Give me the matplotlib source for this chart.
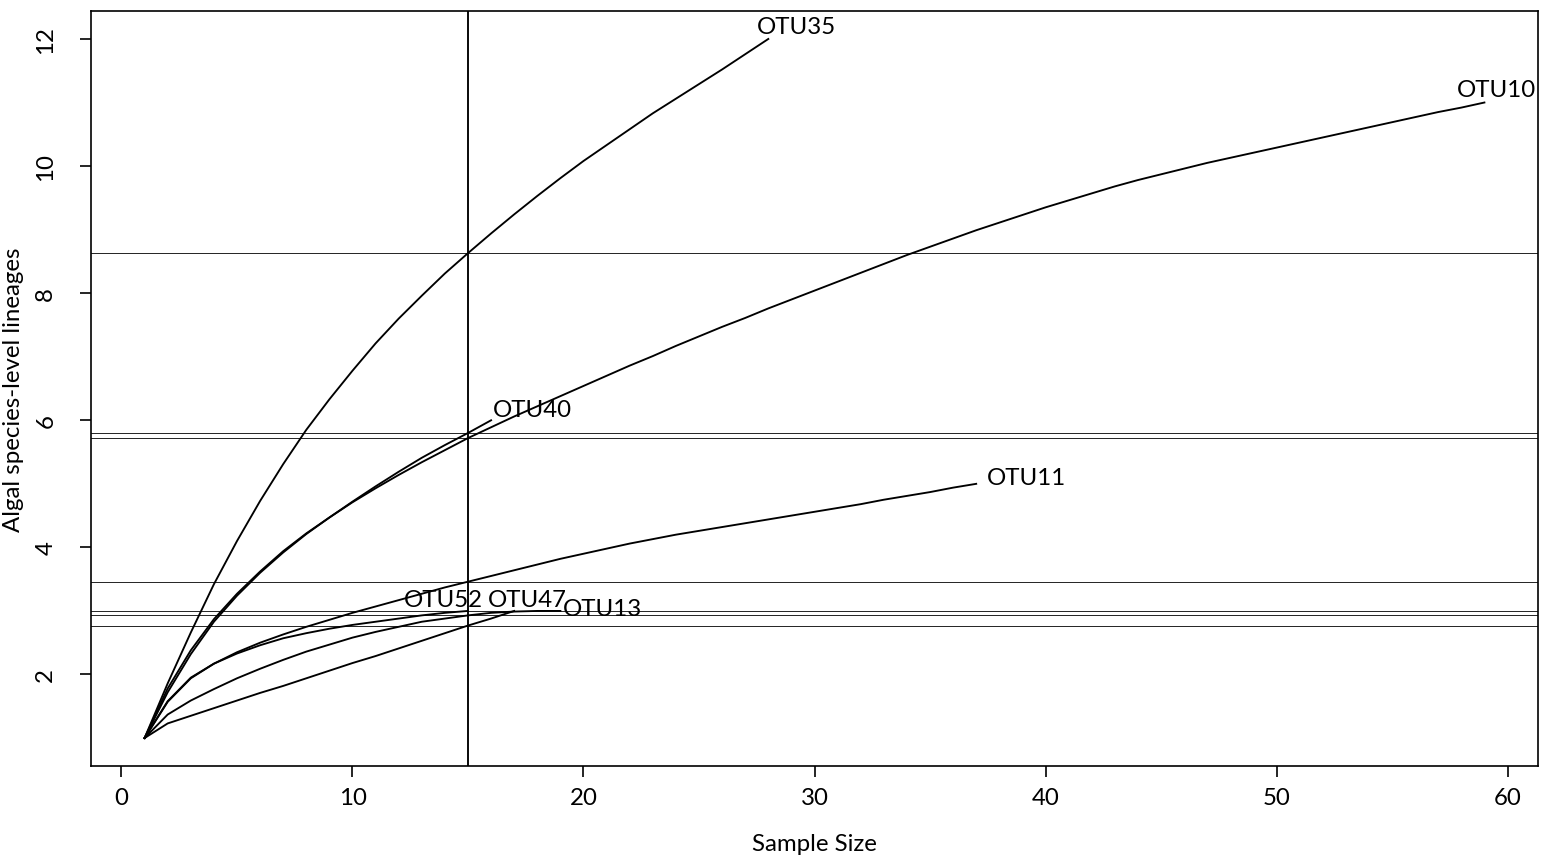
import numpy as np
import matplotlib.pyplot as plt

plt.rcParams['font.family'] = ['Lato', 'DejaVu Sans']

# rarefied richness at subsample size 1..N
otu35 = [1.00, 1.86, 2.66, 3.42, 4.10, 4.73, 5.31, 5.85, 6.33, 6.78,
         7.21, 7.60, 7.96, 8.31, 8.63, 8.94, 9.24, 9.53, 9.81, 10.08,
         10.33, 10.58, 10.83, 11.06, 11.29, 11.52, 11.76, 12.00]
otu10 = [1.00, 1.78, 2.38, 2.87, 3.27, 3.62, 3.94, 4.22, 4.47, 4.71,
         4.93, 5.14, 5.34, 5.53, 5.72, 5.89, 6.06, 6.22, 6.38, 6.54,
         6.70, 6.86, 7.01, 7.17, 7.32, 7.47, 7.61, 7.76, 7.90, 8.04,
         8.18, 8.32, 8.46, 8.60, 8.73, 8.86, 8.99, 9.11, 9.23, 9.35,
         9.46, 9.57, 9.68, 9.78, 9.87, 9.96, 10.05, 10.13, 10.21, 10.29,
         10.37, 10.45, 10.53, 10.61, 10.69, 10.77, 10.85, 10.92, 11.00]
otu40 = [1.00, 1.72, 2.32, 2.83, 3.24, 3.60, 3.92, 4.21, 4.47, 4.72,
         4.96, 5.19, 5.41, 5.61, 5.80, 6.00]
otu11 = [1.00, 1.58, 1.95, 2.17, 2.35, 2.50, 2.63, 2.75, 2.86, 2.97,
         3.07, 3.17, 3.27, 3.37, 3.46, 3.55, 3.64, 3.73, 3.82, 3.90,
         3.98, 4.06, 4.13, 4.20, 4.26, 4.32, 4.38, 4.44, 4.50, 4.56,
         4.62, 4.68, 4.75, 4.81, 4.87, 4.94, 5.00]
otu52 = [1.00, 1.57, 1.94, 2.17, 2.33, 2.46, 2.57, 2.65, 2.72, 2.78,
         2.83, 2.88, 2.93, 2.97, 3.00]
otu47 = [1.00, 1.23, 1.35, 1.47, 1.59, 1.71, 1.82, 1.94, 2.06, 2.18,
         2.29, 2.41, 2.53, 2.65, 2.77, 2.88, 3.00]
otu13 = [1.00, 1.37, 1.59, 1.77, 1.94, 2.09, 2.23, 2.36, 2.47, 2.58,
         2.67, 2.75, 2.83, 2.88, 2.93, 2.97, 2.99, 3.00, 3.00]

names = ['OTU35', 'OTU10', 'OTU40', 'OTU11', 'OTU52', 'OTU47', 'OTU13']
curves = [otu35, otu10, otu40, otu11, otu52, otu47, otu13]
sample = 15

# label offset from the curve end, in pixels
lab_dx = [28, 12, 41, 50, -25, 13, 42]
lab_dy = [12, 13, 11, 6, 11, 11, 2]

fig = plt.figure(figsize=(15.52, 8.62), dpi=100)
ax = fig.add_axes([91 / 1552, 95 / 862, 1447 / 1552, 755 / 862])

ax.axvline(sample, color='black', lw=1.35)
for s in curves:
    n = np.arange(1, len(s) + 1)
    ax.axhline(np.interp(sample, n, s), color='black', lw=0.6)

for name, s, dx, dy in zip(names, curves, lab_dx, lab_dy):
    n = np.arange(1, len(s) + 1)
    ax.plot(n, s, color='black', lw=1.35)
    ax.annotate(name, (n[-1], s[-1]), xytext=(dx, dy),
                textcoords='offset pixels', ha='center', va='center',
                fontsize=17.3)

ax.set_xlim(-1.32, 61.32)
ax.set_ylim(0.56, 12.44)
ax.set_xticks(range(0, 61, 10))
ax.set_yticks(range(2, 13, 2))
ax.set_yticklabels([str(v) for v in range(2, 13, 2)], rotation=90,
                   va='center')
ax.tick_params(direction='out', length=8, width=1.2, labelsize=17.3,
               color='black')
ax.tick_params(axis='x', pad=7)
ax.tick_params(axis='y', pad=17)
for sp in ax.spines.values():
    sp.set_linewidth(1.2)

ax.set_xlabel('Sample Size', fontsize=17.3, va='center')
ax.xaxis.set_label_coords(0.5, -(845 - 767) / 755)
ax.set_ylabel('Algal species-level lineages', fontsize=17.3, va='center')
ax.yaxis.set_label_coords(-(91 - 14) / 1447, 0.5)

fig.savefig('out.png', dpi=100)
